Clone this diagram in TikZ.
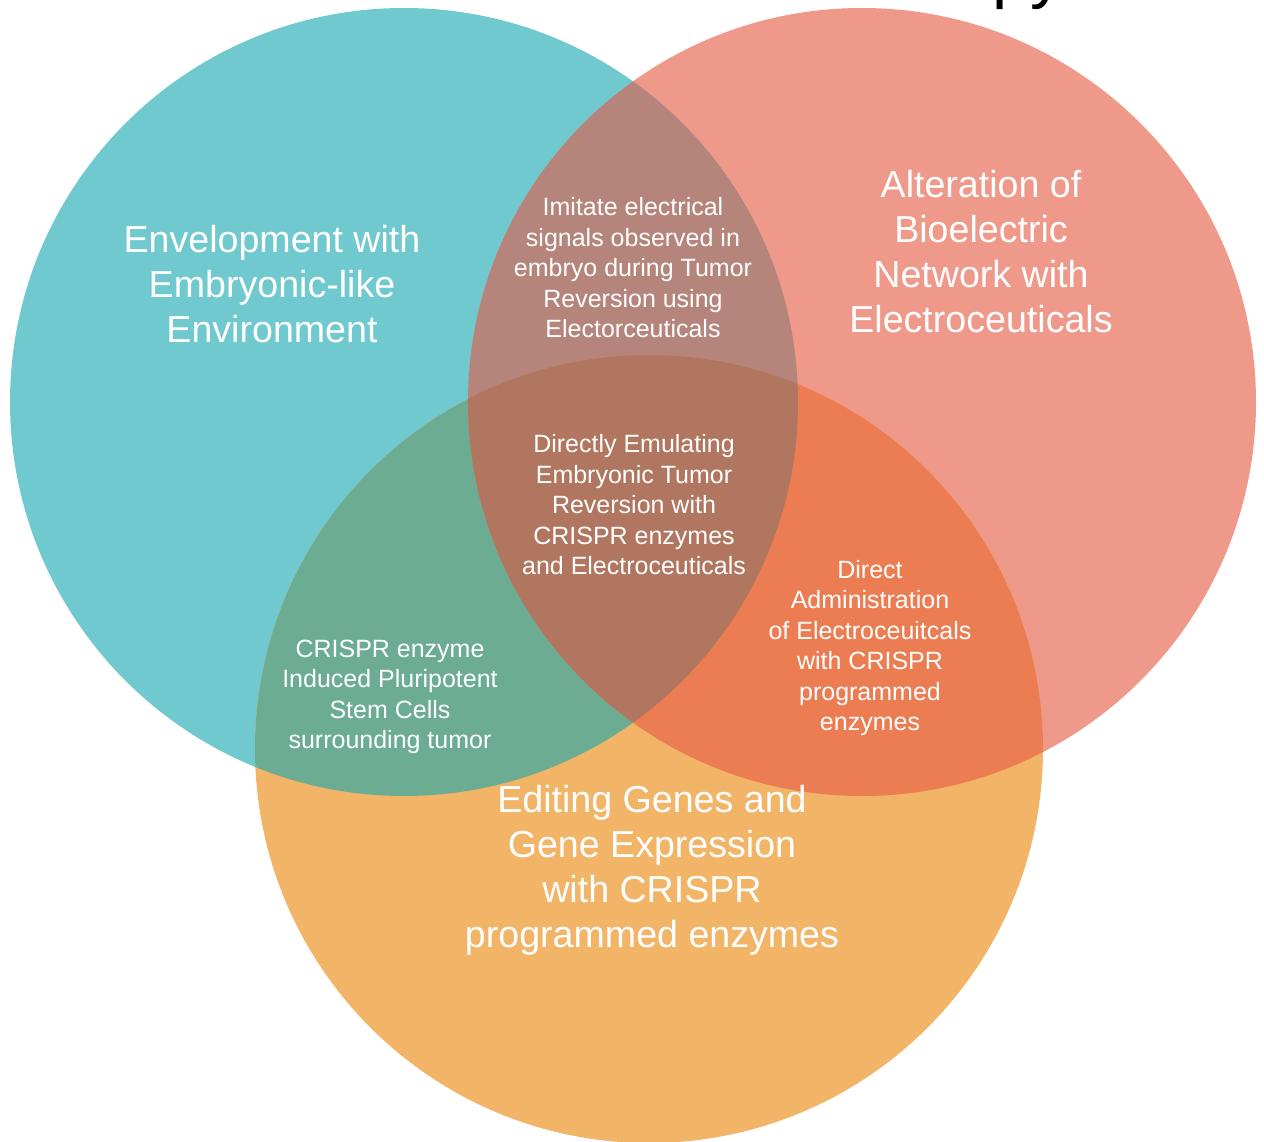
\documentclass[tikz,border=0pt]{standalone}
\usepackage{fontspec}
\setmainfont{Liberation Sans}
\definecolor{cTeal}{HTML}{70C9CF}
\definecolor{cSalmon}{HTML}{EF998B}
\definecolor{cOrange}{HTML}{F2B466}
\definecolor{cTS}{HTML}{B5847A}
\definecolor{cTO}{HTML}{6CAC93}
\definecolor{cSO}{HTML}{EC7C51}
\definecolor{cAll}{HTML}{B17660}
\tikzset{
  bigtext/.style={text=white, align=center, inner sep=0pt, font=\fontsize{37.6}{45}\selectfont},
  smalltext/.style={text=white, align=center, inner sep=0pt, font=\fontsize{25}{30.5}\selectfont},
}
\begin{document}
\begin{tikzpicture}[x=1pt,y=-1pt]
\useasboundingbox (0,0) rectangle (1264,1142);
\clip (0,0) rectangle (1264,1142);
\coordinate (cT) at (404,402);
\coordinate (cS) at (862,402);
\coordinate (cO) at (649,749);
\def\circT{(cT) circle [radius=394pt]}
\def\circS{(cS) circle [radius=394pt]}
\def\circO{(cO) circle [radius=394pt]}
% base discs
\fill[cTeal] \circT;
\fill[cSalmon] \circS;
\fill[cOrange] \circO;
% pairwise overlaps
\begin{scope}\clip \circT; \fill[cTS] \circS; \end{scope}
\begin{scope}\clip \circT; \fill[cTO] \circO; \end{scope}
\begin{scope}\clip \circS; \fill[cSO] \circO; \end{scope}
% common core
\begin{scope}\clip \circT; \clip \circS; \fill[cAll] \circO; \end{scope}
% title fragment at the top edge
\node[anchor=base west, inner sep=0pt, font=\fontsize{68}{80}\selectfont] (title) at (992,-4) {py};
% labels
\node[bigtext] (envel) at (272,284) {Envelopment with\\Embryonic-like\\Environment};
\node[bigtext] (bioel) at (981,252) {Alteration of\\Bioelectric\\Network with\\Electroceuticals};
\node[bigtext] (crispr) at (652,870) {Editing Genes and\\Gene Expression\\with CRISPR\\programmed enzymes};
\node[smalltext] (ts) at (633,268) {Imitate electrical\\signals observed in\\embryo during Tumor\\Reversion using\\Electorceuticals};
\node[smalltext] (all) at (634,505) {Directly Emulating\\Embryonic Tumor\\Reversion with\\CRISPR enzymes\\and Electroceuticals};
\node[smalltext] (to) at (390,697) {CRISPR enzyme\\Induced Pluripotent\\Stem Cells\\surrounding tumor};
\node[smalltext] (so) at (870,648) {Direct\\Administration\\of Electroceuitcals\\with CRISPR\\programmed\\enzymes};
\end{tikzpicture}
\end{document}
